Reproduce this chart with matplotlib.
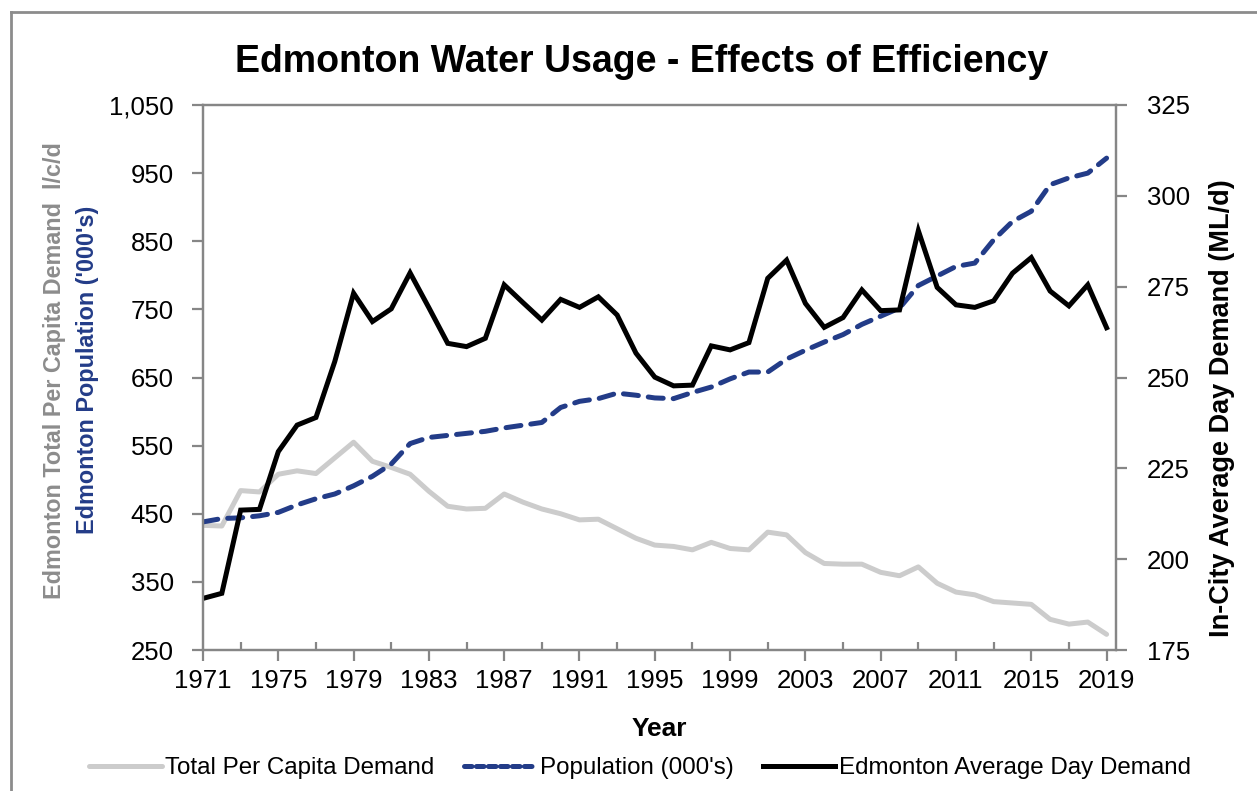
import matplotlib
matplotlib.use('Agg')
import matplotlib.pyplot as plt
from matplotlib.lines import Line2D
from matplotlib.ticker import FuncFormatter
import numpy as np

plt.rcParams['font.family'] = ['Liberation Sans', 'DejaVu Sans']

# data
years = np.arange(1971, 2020)

per_capita = [433, 432, 484, 482, 508, 513, 509, 532, 555, 527,
              518, 508, 483, 461, 457, 458, 479, 467, 457, 450,
              441, 442, 428, 414, 404, 402, 397, 408, 399, 397,
              423, 419, 393, 377, 376, 376, 364, 359, 372, 348,
              335, 331, 321, 319, 317, 295, 288, 291, 273]

population = [438, 443, 444, 447, 452, 463, 472, 479, 491, 505,
              523, 553, 562, 565, 568, 571, 576, 580, 584, 606,
              615, 619, 627, 624, 620, 619, 628, 636, 648, 658,
              658, 677, 690, 702, 713, 728, 740, 752, 785, 799,
              813, 818, 852, 879, 894, 933, 943, 950, 972]

avg_day = [189.2, 190.6, 213.5, 213.7, 229.6, 236.9, 239.0, 254.4, 273.2, 265.4,
           268.9, 278.8, 269.2, 259.4, 258.5, 260.8, 275.5, 270.6, 265.8, 271.5,
           269.3, 272.2, 267.2, 256.7, 250.1, 247.7, 247.9, 258.7, 257.6, 259.6,
           277.3, 282.3, 270.4, 263.8, 266.5, 274.1, 268.4, 268.6, 290.4, 274.8,
           270.0, 269.3, 271.1, 278.7, 283.0, 273.8, 269.7, 275.5, 263.7]

GREY = '#cccccc'
BLUE = '#233c88'
SPINE = '#868686'

fig = plt.figure(figsize=(12.57, 7.91), dpi=100)
ax = fig.add_axes([203 / 1257, 1 - 650 / 791, (1116 - 203) / 1257, (650 - 105) / 791])
ax2 = ax.twinx()

ax.plot(years, per_capita, color=GREY, lw=3.6, solid_capstyle='round', solid_joinstyle='round')
ax.plot(years, population, color=BLUE, lw=3.6, dashes=(3.0, 2.0), dash_capstyle='round',
        solid_joinstyle='round')
ax2.plot(years, avg_day, color='black', lw=3.6, solid_joinstyle='miter')

ax.set_xlim(1971, 2019.5)
ax.set_ylim(250, 1050)
ax2.set_ylim(175, 325)

ax.set_xticks(np.arange(1971, 2020, 4))
ax.set_xticks(np.arange(1973, 2020, 4), minor=True)
ax.set_yticks(np.arange(250, 1051, 100))
ax.yaxis.set_major_formatter(FuncFormatter(lambda v, p: f'{int(v):,}'))
ax2.set_yticks(np.arange(175, 326, 25))

for a in (ax, ax2):
    for s in a.spines.values():
        s.set_color(SPINE)
        s.set_linewidth(1.6)

ax.tick_params(axis='x', which='major', direction='out', length=8, width=1.6, color=SPINE,
               labelsize=18.5, pad=6)
ax.tick_params(axis='x', which='minor', direction='in', length=6, width=1.6, color=SPINE)
ax.tick_params(axis='y', direction='out', length=8, width=1.6, color=SPINE, labelsize=18.5, pad=13)
ax2.tick_params(axis='y', direction='out', length=8, width=1.6, color=SPINE, labelsize=18.5, pad=14)

ax.set_xlabel('Year', fontsize=19, fontweight='bold', labelpad=17)

fig.text(642 / 1257, 1 - 62 / 791, 'Edmonton Water Usage - Effects of Efficiency', ha='center',
         va='center', fontsize=27, fontweight='bold')

fig.text(55 / 1257, 1 - 371 / 791, 'Edmonton Total Per Capita Demand  l/c/d', rotation=90,
         ha='center', va='center', fontsize=16.8, fontweight='bold', color='#8c8c8c')
fig.text(88 / 1257, 1 - 370 / 791, "Edmonton Population ('000's)", rotation=90,
         ha='center', va='center', fontsize=16.8, fontweight='bold', color=BLUE)
fig.text(1222 / 1257, 1 - 408 / 791, 'In-City Average Day Demand (ML/d)', rotation=90,
         ha='center', va='center', fontsize=19.5, fontweight='bold', color='black')

handles = [Line2D([], [], color=GREY, lw=3.6, solid_capstyle='round'),
           Line2D([], [], color=BLUE, lw=3.6, dashes=(1.5, 0.9), dash_capstyle='round'),
           Line2D([], [], color='black', lw=3.6)]
labels = ['Total Per Capita Demand', "Population (000's)", 'Edmonton Average Day Demand']
fig.legend(handles, labels, loc='center', bbox_to_anchor=(640 / 1257, 1 - 768 / 791), ncol=3,
           frameon=False, fontsize=17.4, handlelength=3.0, handletextpad=0.15, columnspacing=1.2)

# chart border (left and top edges visible)
fig.add_artist(Line2D([11 / 1257, 11 / 1257], [0, 1 - 12 / 791], transform=fig.transFigure,
                      color='#8c8c8c', lw=2))
fig.add_artist(Line2D([11 / 1257, 1], [1 - 12 / 791, 1 - 12 / 791], transform=fig.transFigure,
                      color='#8c8c8c', lw=2))

fig.savefig('out.png', dpi=100)
